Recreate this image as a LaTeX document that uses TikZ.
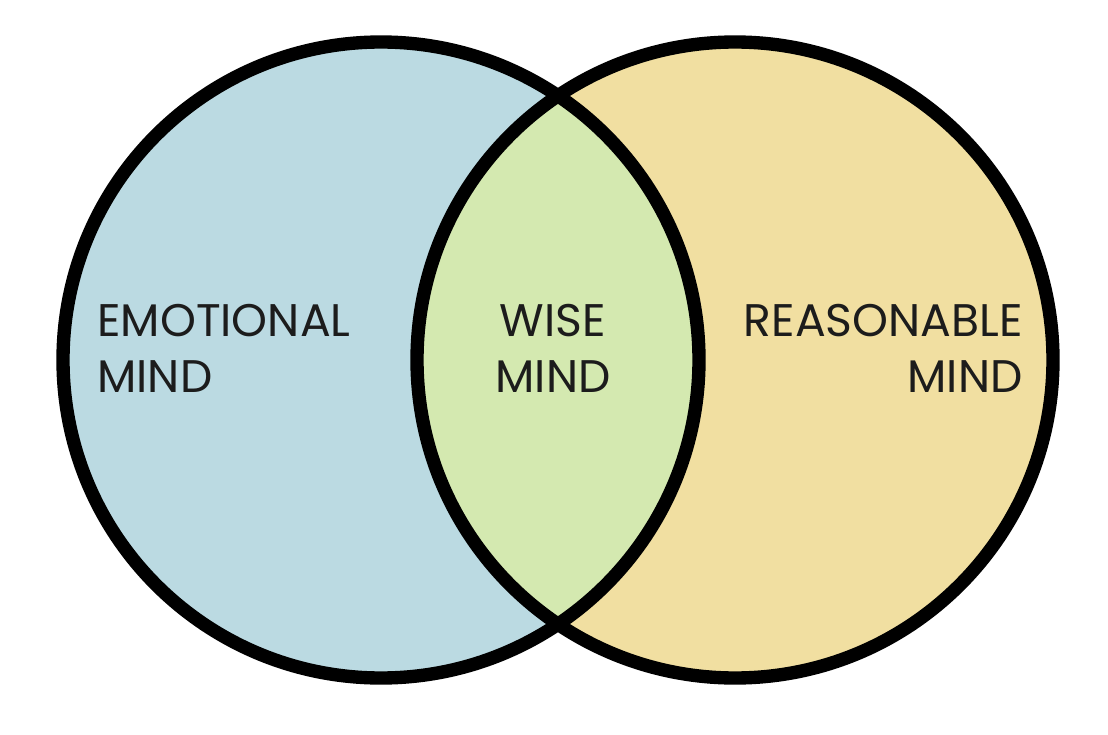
\documentclass[tikz,border=0pt]{standalone}
\usepackage{fontspec}
\setmainfont{Poppins}
\usepackage{xcolor}
\usetikzlibrary{positioning}

\definecolor{emoblue}{HTML}{BBDAE2}
\definecolor{reasonyellow}{HTML}{F1DFA1}
\definecolor{wisegreen}{HTML}{D4E9B0}
\definecolor{inkgray}{HTML}{1C1C1C}

\begin{document}
\begin{tikzpicture}[
    mind/.style={circle, minimum size=12.72cm, inner sep=0pt, fill=#1},
    rim/.style={draw=black, line width=7.6pt},
    word/.style={font=\fontsize{26}{31.3}\selectfont, text=inkgray, inner sep=0pt}
]
\useasboundingbox (0,0) rectangle (22.16,14.68);
% the two minds
\node[mind=emoblue]      (emo) at (7.62,7.48) {};
\node[mind=reasonyellow] (rea) at (14.70,7.48) {};
% overlap
\begin{scope}
    \clip (emo.center) circle (6.36);
    \fill[wisegreen] (rea.center) circle (6.36);
\end{scope}
\draw[rim] (emo.center) circle (6.36);
\draw[rim] (rea.center) circle (6.36);

\node[word, align=left,   anchor=base west] (emotxt) at (1.94,6.84)  {EMOTIONAL\\MIND};
\node[word, align=center, anchor=base]      (wisetxt) at (11.06,6.84) {WISE\\MIND};
\node[word, align=right,  anchor=base east] (reatxt) at (20.46,6.84) {REASONABLE\\MIND};
\end{tikzpicture}
\end{document}
